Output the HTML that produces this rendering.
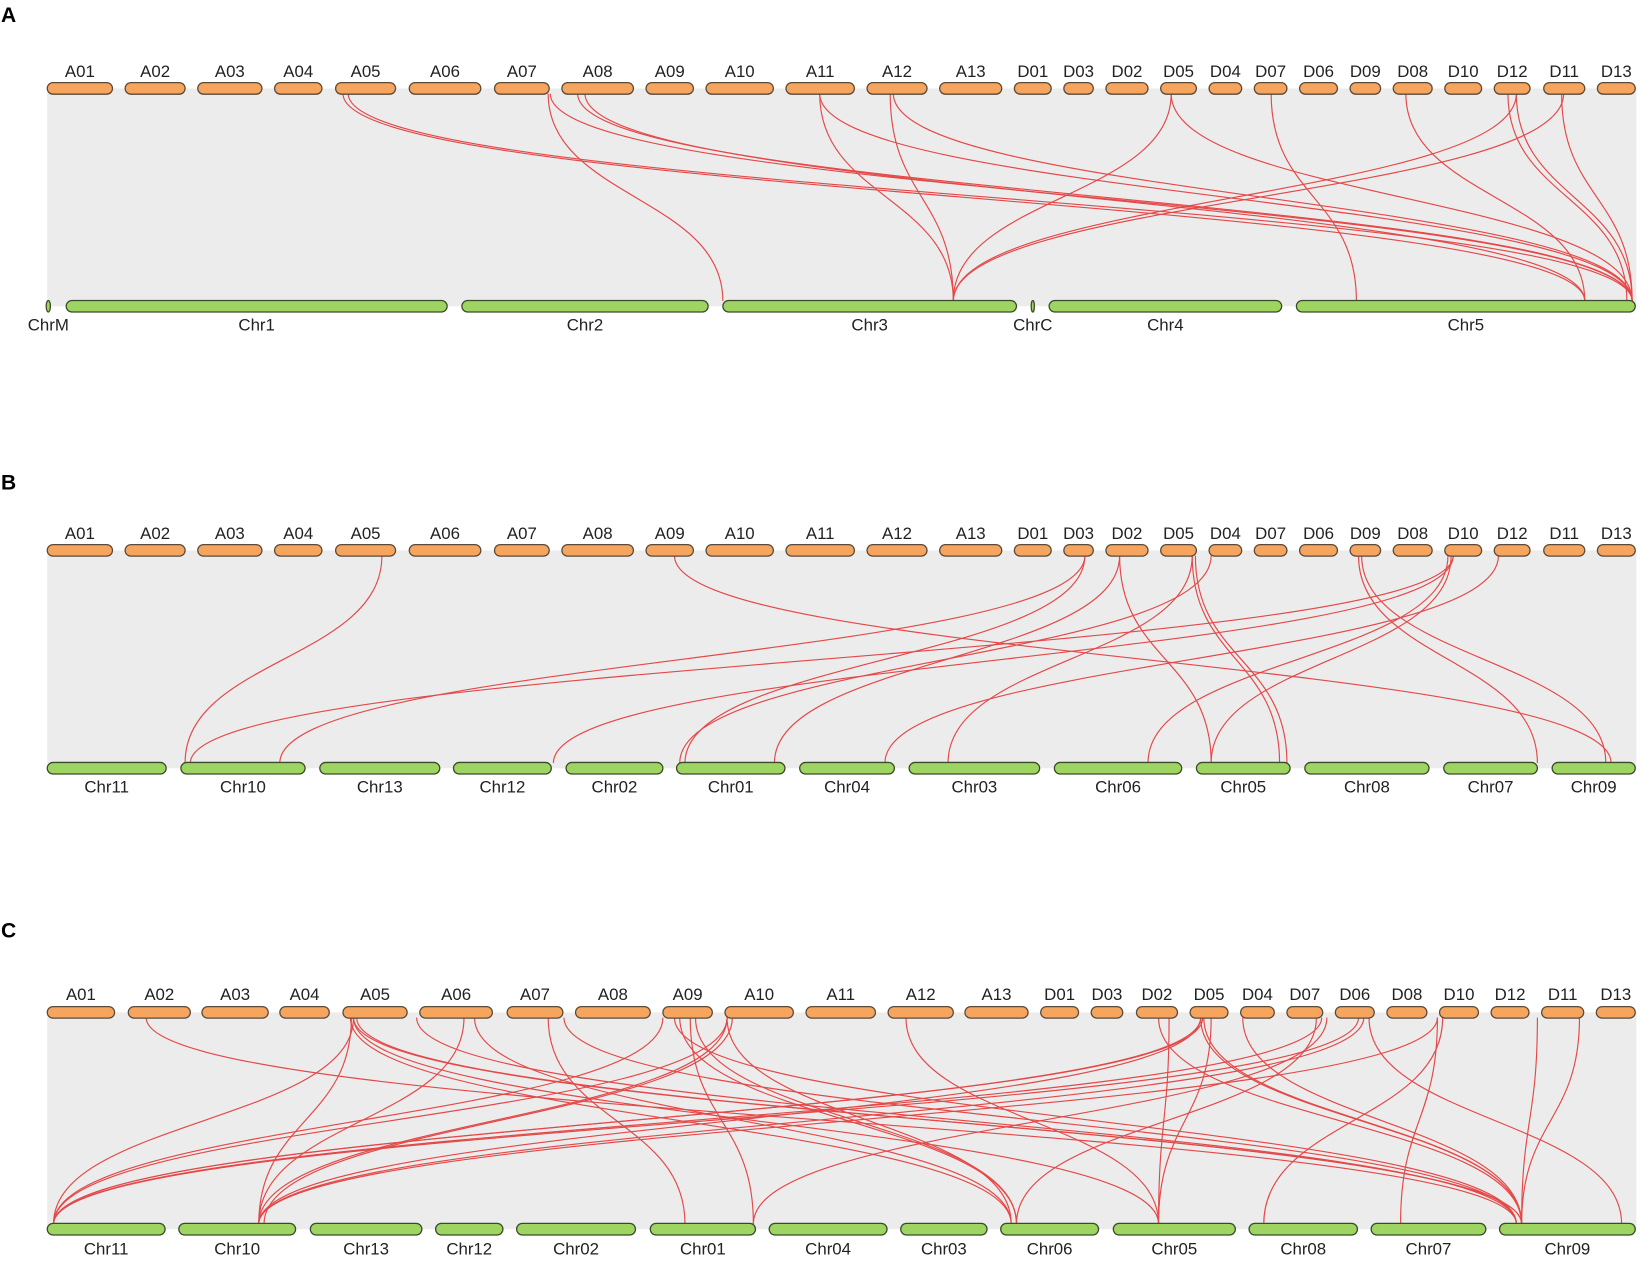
<!DOCTYPE html>
<html><head><meta charset="utf-8"><style>
html,body{margin:0;padding:0;background:#fff;}
svg{display:block;font-family:"Liberation Sans",Arial,sans-serif;}
</style></head><body>
<svg id="chart" width="1652" height="1266" viewBox="0 0 1568 1203" xmlns="http://www.w3.org/2000/svg"></svg>
<script>
// ---- data ----
const topA = [["A01",44,106],["A02",118,175],["A03",187,248],["A04",260,305],["A05",318,375],["A06",388,456],["A07",469,521],["A08",533,601],["A09",613,658],["A10",670,734],["A11",746,811],["A12",823,880],["A13",892,951],["D01",963,998],["D03",1010,1038],["D02",1050,1090],["D05",1102,1136],["D04",1148,1179],["D07",1191,1222],["D06",1234,1270],["D09",1282,1311],["D08",1323,1360],["D10",1372,1407],["D12",1419,1453],["D11",1466,1505],["D13",1517,1553]];
const topB = [["A01",44,106],["A02",118,175],["A03",187,248],["A04",260,305],["A05",318,375],["A06",388,456],["A07",469,521],["A08",533,601],["A09",613,658],["A10",670,734],["A11",746,811],["A12",823,880],["A13",892,951],["D01",963,998],["D03",1010,1038],["D02",1050,1090],["D05",1102,1136],["D04",1148,1179],["D07",1191,1222],["D06",1234,1270],["D09",1282,1311],["D08",1323,1360],["D10",1372,1407],["D12",1419,1453],["D11",1466,1505],["D13",1517,1553]];
const topC = [["A01",44,108],["A02",121,180],["A03",191,254],["A04",265,312],["A05",325,386],["A06",398,467],["A07",481,534],["A08",546,617],["A09",629,676],["A10",688,753],["A11",765,831],["A12",843,905],["A13",916,976],["D01",988,1024],["D03",1036,1066],["D02",1079,1118],["D05",1130,1166],["D04",1178,1210],["D07",1222,1256],["D06",1268,1305],["D08",1317,1355],["D10",1367,1404],["D12",1416,1452],["D11",1464,1504],["D13",1516,1553]];
const botA = [["ChrM",43,47],["Chr1",62,424],["Chr2",438,672],["Chr3",686,965],["ChrC",979,982],["Chr4",996,1217],["Chr5",1231,1553]];
const botB = [["Chr11",44,157],["Chr10",171,289],["Chr13",303,417],["Chr12",430,523],["Chr02",537,629],["Chr01",642,745],["Chr04",759,849],["Chr03",863,987],["Chr06",1001,1122],["Chr05",1136,1225],["Chr08",1239,1357],["Chr07",1371,1460],["Chr09",1474,1553]];
const botC = [["Chr11",44,156],["Chr10",169,280],["Chr13",294,400],["Chr12",413,477],["Chr02",490,603],["Chr01",617,717],["Chr04",730,842],["Chr03",855,937],["Chr06",950,1043],["Chr05",1057,1173],["Chr08",1186,1289],["Chr07",1302,1411],["Chr09",1424,1553]];
const linksA = [[330,1550],[325,1505],[520,686],[522,1550],[548,1550],[555,1505],[778,905],[778,1550],[845,905],[848,1550],[1112,905],[1112,1550],[1207,1288],[1335,1505],[1440,905],[1440,1550],[1485,905],[1483,1550],[1432,1545]];
const linksB = [[362,175],[640,1530],[1030,265],[1063,735],[1063,1150],[1132,900],[1132,1215],[1135,1222],[1150,645],[1380,180],[1380,525],[1378,1150],[1375,1090],[1290,1460],[1293,1525],[1423,840],[1030,650]];
const linksC = [[138,1440],[335,50],[335,1445],[338,1445],[335,1100],[332,960],[333,245],[440,245],[450,960],[395,1440],[535,1440],[520,650],[629,50],[640,1440],[655,715],[660,965],[645,965],[690,50],[690,245],[695,250],[690,960],[860,1100],[1140,50],[1140,245],[1142,50],[1140,1445],[1143,1445],[1150,1100],[1100,1445],[1110,1100],[1180,1445],[1250,965],[1255,50],[1260,715],[1290,50],[1295,245],[1300,1540],[1365,1330],[1370,1200],[1365,245],[1460,1445],[1500,1445]];
// ---- drawing ----
const svg = document.getElementById('chart');
const NS = 'http://www.w3.org/2000/svg';
function mk(tag, attrs, parent){const e=document.createElementNS(NS,tag);for(const k in attrs)e.setAttribute(k,attrs[k]);(parent||svg).appendChild(e);return e;}
const panels = [
 {id:'a',letter:'A',ly:14,tl:67,tb:84,bb:291,bl:308,top:topA,bot:botA,links:linksA},
 {id:'b',letter:'B',ly:458,tl:506,tb:523,bb:730,bl:747,top:topB,bot:botB,links:linksB},
 {id:'c',letter:'C',ly:884,tl:944,tb:962,bb:1168,bl:1186,top:topC,bot:botC,links:linksC}
];
panels.forEach(p=>{
  const g = mk('g',{});
  
  
  const L = mk('text',{x:0,y:p.ly+7,'font-size':20,'font-weight':'bold',fill:'#000'},g);
  L.textContent=p.letter;
  
  
  const bg = mk('rect',{x:44,y:p.tb,width:1510,height:p.bb-p.tb,fill:'#ececec'},g);
  
  
  const lg = mk('g',{fill:'none',stroke:'#e44848','stroke-width':1.1},g);
  p.links.forEach(l=>{
    const y1=p.tb+5,y2=p.bb-5,m=(y1+y2)/2;
    const path=mk('path',{d:`M${l[0]},${y1} C${l[0]},${m} ${l[1]},${m} ${l[1]},${y2}`},lg);
    
    
  });
  p.top.forEach(c=>{
    const r=mk('rect',{x:c[1],y:p.tb-5.5,width:c[2]-c[1],height:11,rx:5.5,fill:'#f6a55f',stroke:'#5a4a3a','stroke-width':1.2},g);
    
    
    const t=mk('text',{x:(c[1]+c[2])/2,y:p.tl+6,'font-size':16,'text-anchor':'middle',fill:'#222'},g);
    t.textContent=c[0];
    
    
  });
  p.bot.forEach(c=>{
    const r=mk('rect',{x:c[1],y:p.bb-5.5,width:c[2]-c[1],height:11,rx:5.5,fill:'#9ed462',stroke:'#3a4a2a','stroke-width':1.2},g);
    
    
    const t=mk('text',{x:(c[1]+c[2])/2,y:p.bl+6,'font-size':16,'text-anchor':'middle',fill:'#222'},g);
    t.textContent=c[0];
    
    
  });
});
</script>
</body></html>
